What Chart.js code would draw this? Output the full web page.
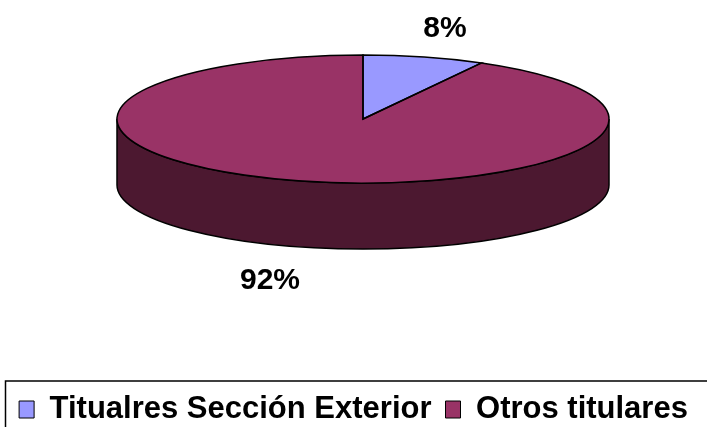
<!DOCTYPE html>
<html>
<head>
<meta charset="utf-8">
<script src="https://cdn.jsdelivr.net/npm/chart.js@4.4.1/dist/chart.umd.min.js"></script>
<style>
  body { margin: 0; background: #fff; }
</style>
</head>
<body>
<canvas id="grafico" width="707" height="427"></canvas>
<script>
const categorias = ['Titualres Sección Exterior', 'Otros titulares'];
const valores = [8, 92];
const etiquetas = ['8%', '92%'];

const colores = ['#9999FF', '#993366'];
const coloresLado = ['#4D4D80', '#4C1830'];

// geometria del pastel 3D (elipse + grosor)
const pastel = { cx: 363, cy: 119, rx: 246, ry: 64, grosor: 66 };
const familia = 'Arial, "Liberation Sans", sans-serif';

const pastel3d = {
    id: 'pastel3d',
    beforeDatasetsDraw(chart) {
        const ctx = chart.ctx;
        const arcos = chart.getDatasetMeta(0).data;
        const a0 = arcos[0];
        const { cx, cy, rx, ry, grosor } = pastel;

        // lado frontal (solo la mitad visible, angulos 0..PI)
        arcos.forEach((arco, i) => {
            const ini = Math.max(arco.startAngle, 0), fin = Math.min(arco.endAngle, Math.PI);
            if (fin <= ini) return;
            ctx.save();
            ctx.beginPath();
            ctx.ellipse(cx, cy, rx, ry, 0, ini, fin);
            ctx.lineTo(cx + rx * Math.cos(fin), cy + ry * Math.sin(fin) + grosor);
            ctx.ellipse(cx, cy + grosor, rx, ry, 0, fin, ini, true);
            ctx.closePath();
            ctx.fillStyle = coloresLado[i];
            ctx.fill();
            ctx.lineWidth = 1.5;
            ctx.strokeStyle = '#000';
            ctx.stroke();
            ctx.restore();
        });

        // aplastar el circulo de Chart.js en una elipse
        ctx.save();
        ctx.translate(cx, cy);
        ctx.scale(rx / a0.outerRadius, ry / a0.outerRadius);
        ctx.translate(-a0.x, -a0.y);
    },
    afterDatasetsDraw(chart) {
        const ctx = chart.ctx;
        ctx.restore();
        const arcos = chart.getDatasetMeta(0).data;
        const { cx, cy, rx, ry, grosor } = pastel;

        // bordes de cada porcion
        ctx.save();
        ctx.lineWidth = 1.5;
        ctx.strokeStyle = '#000';
        arcos.forEach(arco => {
            ctx.beginPath();
            ctx.moveTo(cx, cy);
            ctx.ellipse(cx, cy, rx, ry, 0, arco.startAngle, arco.endAngle);
            ctx.closePath();
            ctx.stroke();
        });

        // porcentajes
        ctx.font = 'bold 30px ' + familia;
        ctx.fillStyle = '#000';
        ctx.textAlign = 'center';
        ctx.textBaseline = 'middle';
        arcos.forEach((arco, i) => {
            const medio = (arco.startAngle + arco.endAngle) / 2;
            const s = Math.sin(medio);
            const x = cx + rx * (s > 0 ? 1.52 : 1.34) * Math.cos(medio);
            const y = cy + ry * 1.45 * s + (s > 0 ? grosor + 6 : 0);
            ctx.fillText(etiquetas[i], x, y);
        });
        ctx.restore();
    },
    afterDraw(chart) {
        // marco de la leyenda
        const ctx = chart.ctx;
        const ley = chart.legend;
        ctx.save();
        ctx.lineWidth = 1.5;
        ctx.strokeStyle = '#000';
        ctx.strokeRect(5.5, ley.top + 1, chart.width + 20, 80);
        ctx.restore();
    }
};

const ctx = document.getElementById('grafico').getContext('2d');

new Chart(ctx, {
    type: 'pie',
    data: {
        labels: categorias,
        datasets: [{
            data: valores,
            backgroundColor: colores,
            borderWidth: 0
        }]
    },
    options: {
        responsive: false,
        animation: false,
        devicePixelRatio: 1,
        events: [],
        layout: { padding: { left: 0, right: 0, top: 0, bottom: -8 } },
        plugins: {
            tooltip: { enabled: false },
            legend: {
                position: 'bottom',
                labels: {
                    color: '#000',
                    font: { family: familia, size: 31, weight: 'bold' },
                    boxWidth: 15,
                    boxHeight: 17,
                    padding: 14,
                    generateLabels(chart) {
                        const items = Chart.overrides.pie.plugins.legend.labels.generateLabels(chart);
                        items.forEach(it => { it.strokeStyle = '#000'; it.lineWidth = 1; });
                        return items;
                    }
                }
            }
        }
    },
    plugins: [pastel3d]
});
</script>
</body>
</html>
